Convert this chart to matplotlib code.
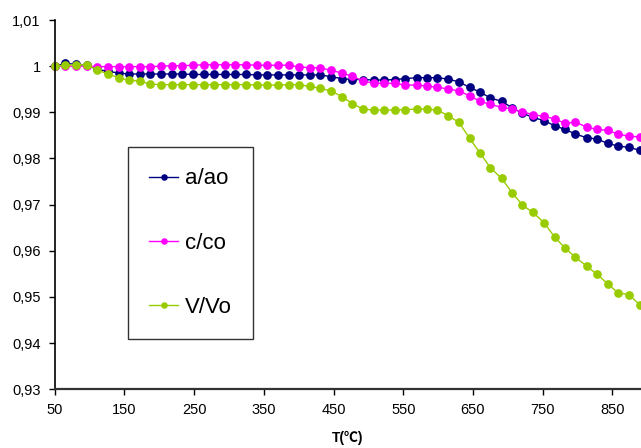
import matplotlib
matplotlib.use("Agg")
import matplotlib.pyplot as plt
from matplotlib.ticker import FixedLocator, FixedFormatter

plt.rcParams['font.family'] = ['Liberation Sans', 'DejaVu Sans']

# Temperature (°C)
temperature = [50, 65, 81, 96, 111, 126, 142, 157, 172, 187, 203, 218, 233, 248,
               264, 279, 294, 309, 325, 340, 355, 370, 386, 401, 416, 431, 447, 462,
               477, 492, 508, 523, 538, 553, 569, 584, 599, 614, 630, 645, 660, 675,
               691, 706, 721, 736, 752, 767, 782, 797, 813, 828, 843, 858, 874, 889]

# Relative lattice parameter a/a0
a_ratio = [1.0000, 1.0006, 1.0004, 1.0002, 0.9993, 0.9989, 0.9985, 0.9983, 0.9983, 0.9983,
           0.9983, 0.9983, 0.9983, 0.9982, 0.9982, 0.9982, 0.9982, 0.9982, 0.9982, 0.9981,
           0.9981, 0.9981, 0.9981, 0.9981, 0.9981, 0.9981, 0.9977, 0.9973, 0.9971, 0.9971,
           0.9970, 0.9970, 0.9971, 0.9973, 0.9975, 0.9975, 0.9975, 0.9972, 0.9966, 0.9954,
           0.9944, 0.9931, 0.9924, 0.9910, 0.9898, 0.9889, 0.9882, 0.9871, 0.9863, 0.9853,
           0.9845, 0.9842, 0.9833, 0.9827, 0.9824, 0.9818]

# Relative lattice parameter c/c0
c_ratio = [1.0000, 1.0000, 1.0000, 1.0000, 0.9999, 0.9999, 0.9999, 0.9999, 0.9999, 0.9999,
           1.0000, 1.0001, 1.0001, 1.0002, 1.0003, 1.0003, 1.0003, 1.0003, 1.0003, 1.0002,
           1.0002, 1.0002, 1.0002, 0.9998, 0.9997, 0.9996, 0.9991, 0.9985, 0.9978, 0.9968,
           0.9963, 0.9963, 0.9963, 0.9959, 0.9959, 0.9957, 0.9954, 0.9951, 0.9946, 0.9936,
           0.9924, 0.9917, 0.9911, 0.9907, 0.9901, 0.9895, 0.9891, 0.9886, 0.9876, 0.9879,
           0.9868, 0.9863, 0.9861, 0.9853, 0.9848, 0.9847]

# Relative cell volume V/V0
v_ratio = [1.0000, 1.0002, 1.0003, 1.0003, 0.9992, 0.9983, 0.9975, 0.9969, 0.9968, 0.9961,
           0.9960, 0.9960, 0.9960, 0.9960, 0.9960, 0.9960, 0.9960, 0.9960, 0.9960, 0.9959,
           0.9959, 0.9959, 0.9960, 0.9960, 0.9956, 0.9952, 0.9946, 0.9934, 0.9919, 0.9907,
           0.9905, 0.9905, 0.9905, 0.9906, 0.9907, 0.9907, 0.9905, 0.9893, 0.9878, 0.9844,
           0.9812, 0.9780, 0.9757, 0.9726, 0.9699, 0.9683, 0.9661, 0.9630, 0.9606, 0.9586,
           0.9567, 0.9549, 0.9529, 0.9509, 0.9505, 0.9483]

series_labels = ['a/ao', 'c/co', 'V/Vo']
series_colors = ['#000080', '#FF00FF', '#99CC00']

x_ticks = [50, 150, 250, 350, 450, 550, 650, 750, 850]
y_ticks = [0.93, 0.94, 0.95, 0.96, 0.97, 0.98, 0.99, 1.00, 1.01]
y_tick_labels = ['0,93', '0,94', '0,95', '0,96', '0,97', '0,98', '0,99', '1', '1,01']

fig = plt.figure(figsize=(6.41, 4.48), dpi=100)
ax = fig.add_axes([54.7 / 641, 1 - 389.3 / 448, 1 - 54.7 / 641, (389.3 - 20) / 448])

for y, lab, col in zip([a_ratio, c_ratio, v_ratio], series_labels, series_colors):
    ax.plot(temperature, y, color=col, lw=1.0, marker='o', markersize=6.3,
            markeredgewidth=0, label=lab, clip_on=False)

ax.set_xlim(50, 891)
ax.set_ylim(0.93, 1.01)
ax.xaxis.set_major_locator(FixedLocator(x_ticks))
ax.yaxis.set_major_locator(FixedLocator(y_ticks))
ax.yaxis.set_major_formatter(FixedFormatter(y_tick_labels))
ax.tick_params(axis='both', direction='out', length=4, width=1, colors='black',
               labelsize=10.5, pad=6)

for side in ['top', 'right']:
    ax.spines[side].set_visible(False)
ax.spines['left'].set_linewidth(1.2)
ax.spines['bottom'].set_linewidth(1.6)
ax.spines['bottom'].set_color('#333333')

ax.set_xlabel('T(℃)', fontsize=10, fontweight='bold',
              family=['Liberation Sans', 'Noto Sans CJK SC'], labelpad=10)

leg = ax.legend(loc='upper left', bbox_to_anchor=(128.3 / 641, 1 - 147.3 / 448),
                bbox_transform=fig.transFigure, fontsize=16, frameon=True,
                fancybox=False, edgecolor='black', borderpad=0.95,
                labelspacing=1.95, handlelength=1.3, handletextpad=0.3,
                markerscale=0.75, borderaxespad=0)
leg.get_frame().set_linewidth(1.0)

fig.savefig('out.png', dpi=100)
